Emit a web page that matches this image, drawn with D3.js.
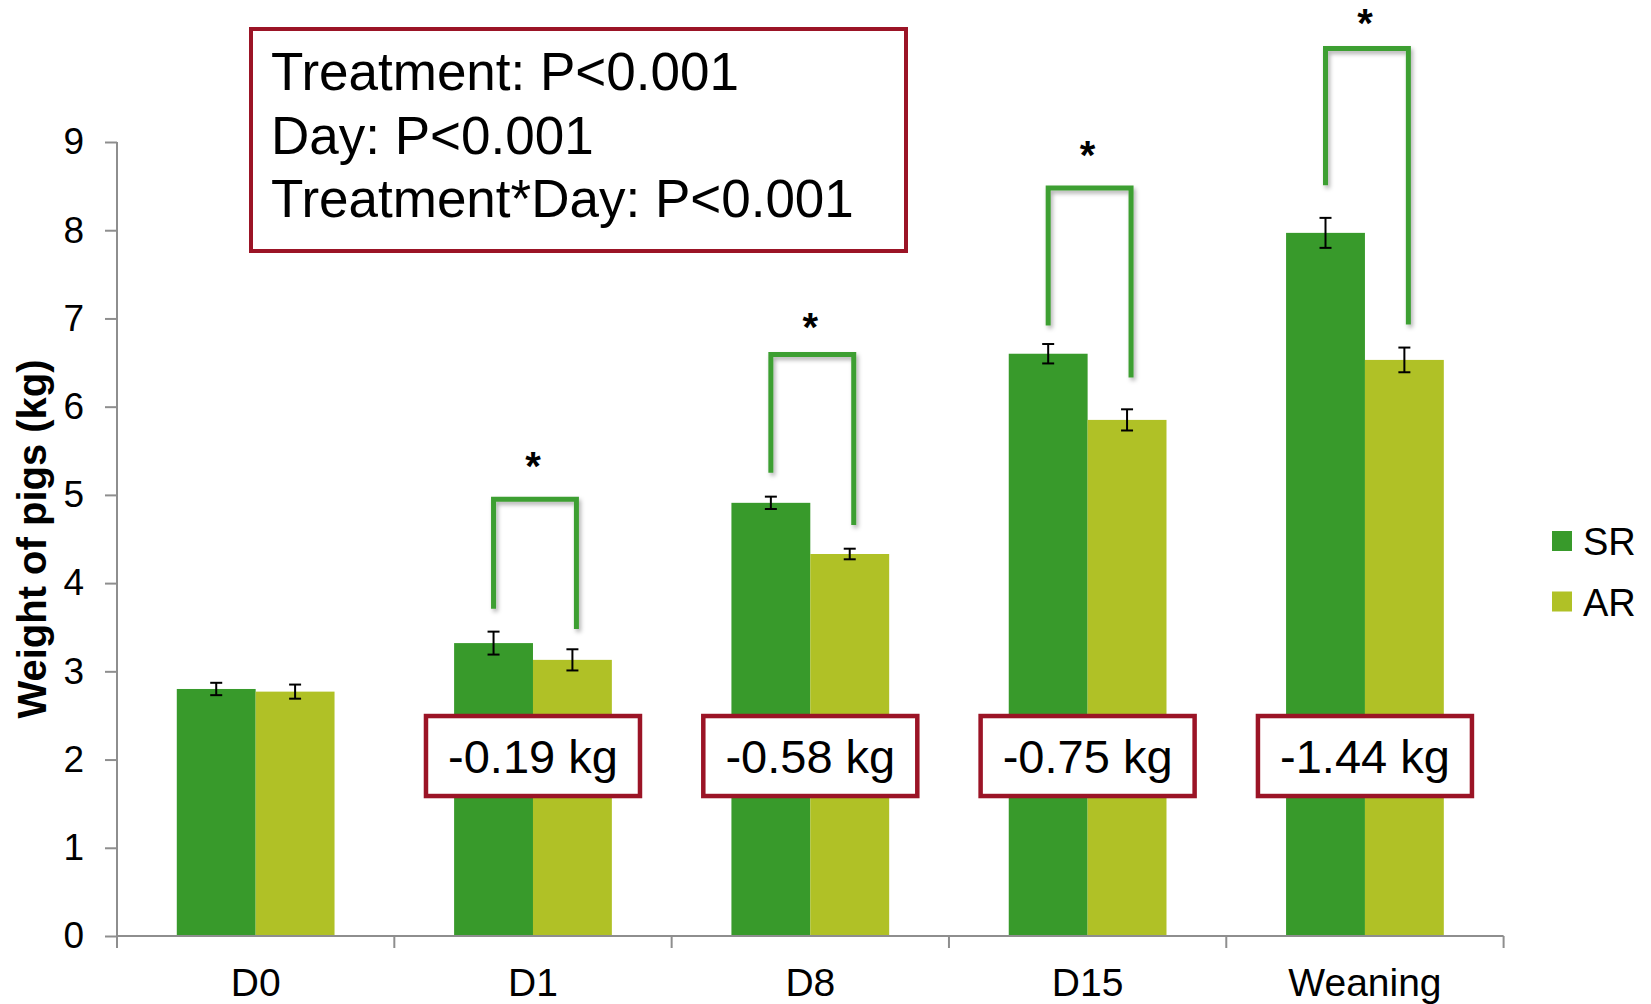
<!DOCTYPE html>
<html>
<head>
<meta charset="utf-8">
<script src="https://cdn.jsdelivr.net/npm/d3@7"></script>
<style>
  html, body { margin: 0; padding: 0; background: #fff; }
  svg { display: block; font-family: "Liberation Sans", Arial, sans-serif; }
</style>
</head>
<body>
<svg id="chart" width="1651" height="1004"></svg>
<script>
// Piglet body weight by day and rearing treatment
const categories = ["D0", "D1", "D8", "D15", "Weaning"];
const seriesNames = ["SR", "AR"];
const srMeans = [2.80, 3.32, 4.91, 6.60, 7.97];
const arMeans = [2.77, 3.13, 4.33, 5.85, 6.53];
const srErr = [0.07, 0.13, 0.07, 0.11, 0.17];
const arErr = [0.08, 0.12, 0.06, 0.12, 0.14];
const yTicks = [0, 1, 2, 3, 4, 5, 6, 7, 8, 9];

// Significance brackets (kg): left leg end, top bar, right leg end, star level
const bracketLeft = [null, 3.71, 5.25, 6.92, 8.51];
const bracketTop = [null, 4.95, 6.59, 8.48, 10.06];
const bracketRight = [null, 3.48, 4.66, 6.33, 6.93];
const starLevel = [null, 5.40, 6.97, 8.92, 10.42];

// Vertical centre (kg) for the AR - SR difference boxes
const diffBoxLevel = 2.04;

const statLines = ["Treatment: P<0.001", "Day: P<0.001", "Treatment*Day: P<0.001"];

const colors = { SR: "#389a2b", AR: "#b0c126" };
const bracketColor = "#3c9f30";
const boxRed = "#9b1426";
const axisGray = "#8e8e8e";

const svg = d3.select("#chart");

const defs = svg.append("defs");
const shadow = defs.append("filter").attr("id", "soft-shadow")
  .attr("x", "-20%").attr("y", "-20%").attr("width", "140%").attr("height", "140%");
shadow.append("feDropShadow").attr("dx", 2).attr("dy", 3)
  .attr("stdDeviation", 2).attr("flood-color", "#000").attr("flood-opacity", 0.3);

const plot = { left: 117, right: 1503.6, top: 142, bottom: 936 };

const x0 = d3.scaleBand().domain(categories).range([plot.left, plot.right])
  .paddingInner(0).paddingOuter(0);
const x1 = d3.scaleBand().domain(seriesNames).range([0, x0.bandwidth()])
  .paddingInner(0).paddingOuter(0.758);
const y = d3.scaleLinear().domain([0, 9]).range([plot.bottom, plot.top]);

const rows = categories.map((c, i) => ({
  cat: c,
  values: [
    { key: "SR", mean: srMeans[i], err: srErr[i] },
    { key: "AR", mean: arMeans[i], err: arErr[i] }
  ]
}));

// Bars
const groups = svg.append("g").selectAll("g").data(rows).join("g")
  .attr("transform", d => `translate(${x0(d.cat)},0)`);

groups.selectAll("rect").data(d => d.values).join("rect")
  .attr("x", d => x1(d.key))
  .attr("y", d => y(d.mean))
  .attr("width", x1.bandwidth())
  .attr("height", d => y(0) - y(d.mean))
  .attr("fill", d => colors[d.key]);

// Error bars
const capHalf = 6;
const eb = groups.selectAll("g.err").data(d => d.values).join("g").attr("class", "err")
  .attr("stroke", "#000").attr("stroke-width", 2);
eb.append("line")
  .attr("x1", d => x1(d.key) + x1.bandwidth() / 2)
  .attr("x2", d => x1(d.key) + x1.bandwidth() / 2)
  .attr("y1", d => y(d.mean + d.err)).attr("y2", d => y(d.mean - d.err));
eb.append("line")
  .attr("x1", d => x1(d.key) + x1.bandwidth() / 2 - capHalf)
  .attr("x2", d => x1(d.key) + x1.bandwidth() / 2 + capHalf)
  .attr("y1", d => y(d.mean + d.err)).attr("y2", d => y(d.mean + d.err));
eb.append("line")
  .attr("x1", d => x1(d.key) + x1.bandwidth() / 2 - capHalf)
  .attr("x2", d => x1(d.key) + x1.bandwidth() / 2 + capHalf)
  .attr("y1", d => y(d.mean - d.err)).attr("y2", d => y(d.mean - d.err));

// Y axis
const yAxis = svg.append("g").attr("transform", `translate(${plot.left},0)`)
  .call(d3.axisLeft(y).tickValues(yTicks).tickFormat(d3.format("d"))
    .tickSize(12).tickPadding(21));
yAxis.select(".domain").remove();
yAxis.append("line").attr("x1", 0).attr("x2", 0)
  .attr("y1", y(9)).attr("y2", plot.bottom + 12)
  .attr("stroke", axisGray).attr("stroke-width", 2);
yAxis.selectAll(".tick line").attr("stroke", axisGray).attr("stroke-width", 2);
yAxis.selectAll(".tick text").attr("fill", "#000").style("font-size", "37px");

// X axis
const xAxis = svg.append("g").attr("transform", `translate(0,${plot.bottom})`)
  .call(d3.axisBottom(x0).tickSize(0).tickPadding(32));
xAxis.select(".domain").remove();
xAxis.selectAll(".tick text").attr("fill", "#000").style("font-size", "39px");
xAxis.append("line").attr("x1", plot.left).attr("x2", plot.right)
  .attr("y1", 0).attr("y2", 0).attr("stroke", axisGray).attr("stroke-width", 2);
const boundaries = categories.map(c => x0(c)).concat([x0.range()[1]]);
xAxis.selectAll("line.bt").data(boundaries).join("line").attr("class", "bt")
  .attr("x1", d => d).attr("x2", d => d).attr("y1", 0).attr("y2", 12)
  .attr("stroke", axisGray).attr("stroke-width", 2);

// Y axis title
svg.append("text")
  .attr("transform", `translate(46,${(plot.top + plot.bottom) / 2}) rotate(-90)`)
  .attr("text-anchor", "middle")
  .style("font-size", "40px").style("font-weight", "bold")
  .text("Weight of pigs (kg)");

// Significance brackets with stars
const sig = rows.map((d, i) => ({ cat: d.cat, i })).filter(d => bracketTop[d.i] != null);
const center = (cat, key) => x0(cat) + x1(key) + x1.bandwidth() / 2;
svg.append("g").attr("filter", "url(#soft-shadow)")
  .selectAll("path").data(sig).join("path")
  .attr("d", d => {
    const xl = center(d.cat, "SR"), xr = center(d.cat, "AR") + 4;
    return `M${xl},${y(bracketLeft[d.i])}V${y(bracketTop[d.i])}H${xr}V${y(bracketRight[d.i])}`;
  })
  .attr("fill", "none").attr("stroke", bracketColor).attr("stroke-width", 5)
  .attr("stroke-linejoin", "miter");

// star glyph centre sits about half an em above its baseline
svg.append("g").selectAll("text").data(sig).join("text")
  .attr("x", d => x0(d.cat) + x0.bandwidth() / 2)
  .attr("y", d => y(starLevel[d.i]) + 20)
  .attr("text-anchor", "middle")
  .style("font-size", "40px").style("font-weight", "bold")
  .text("*");

// Difference boxes (AR - SR)
const diffs = rows.map((d, i) => ({ cat: d.cat, diff: arMeans[i] - srMeans[i], i })).filter(d => d.i > 0);
const boxW = 214, boxH = 80;
const dg = svg.append("g").selectAll("g").data(diffs).join("g")
  .attr("transform", d => `translate(${x0(d.cat) + x0.bandwidth() / 2},${y(diffBoxLevel)})`);
dg.append("rect").attr("x", -boxW / 2).attr("y", -boxH / 2)
  .attr("width", boxW).attr("height", boxH)
  .attr("fill", "#fff").attr("stroke", boxRed).attr("stroke-width", 4.5);
dg.append("text").attr("text-anchor", "middle").attr("y", 17)
  .style("font-size", "47px")
  .text(d => `${d.diff.toFixed(2)} kg`);

// Statistics box
const sb = svg.append("g");
sb.append("rect").attr("x", 251).attr("y", 29).attr("width", 655).attr("height", 222)
  .attr("fill", "#fff").attr("stroke", boxRed).attr("stroke-width", 4);
sb.selectAll("text").data(statLines).join("text")
  .attr("x", 271).attr("y", (d, i) => 90 + i * 63.5)
  .style("font-size", "53px").text(d => d);

// Legend
const lg = svg.append("g").attr("transform", "translate(1552,531)");
const li = lg.selectAll("g").data(seriesNames).join("g")
  .attr("transform", (d, i) => `translate(0,${i * 60.5})`);
li.append("rect").attr("width", 20).attr("height", 20).attr("fill", d => colors[d]);
li.append("text").attr("x", 31).attr("y", 24).style("font-size", "38px").text(d => d);
</script>
</body>
</html>
